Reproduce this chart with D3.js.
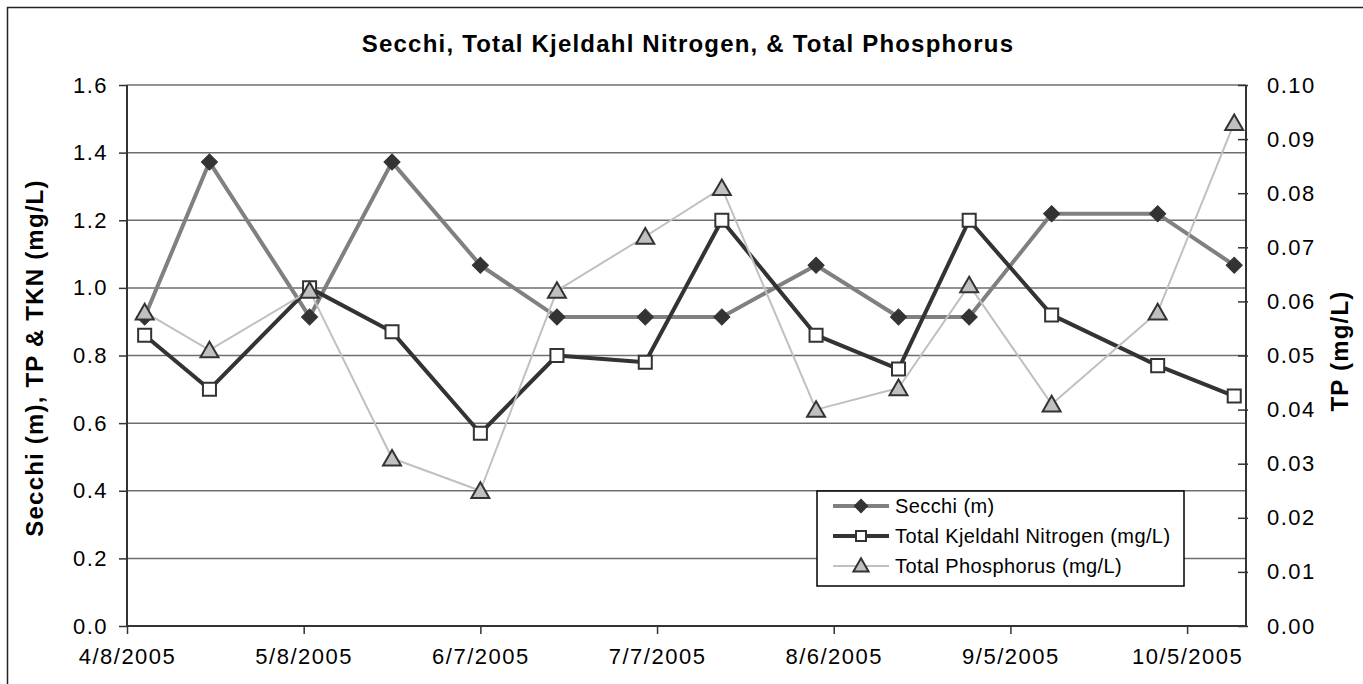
<!DOCTYPE html>
<html>
<head>
	<title>secchi-tkn-tp</title>
	<script src="https://d3js.org/d3.v7.min.js"></script>
	<style>
		body { margin: 0; background: #fff; }
		text { font-family: "Liberation Sans", Arial, sans-serif; fill: #000; }
	</style>
</head>
<body>
	<svg width="1363" height="684"></svg>
	<script type="text/javascript">
		var dates = ['4/11/2005', '4/22/2005', '5/9/2005', '5/23/2005', '6/7/2005', '6/20/2005', '7/5/2005',
			'7/18/2005', '8/3/2005', '8/17/2005', '8/29/2005', '9/12/2005', '9/30/2005', '10/13/2005'];
		var secchi = [0.914, 1.372, 0.914, 1.372, 1.067, 0.914, 0.914, 0.914, 1.067, 0.914, 0.914, 1.219, 1.219, 1.067];
		var tkn = [0.86, 0.70, 1.00, 0.87, 0.57, 0.80, 0.78, 1.20, 0.86, 0.76, 1.20, 0.92, 0.77, 0.68];
		var tp = [0.058, 0.051, 0.062, 0.031, 0.025, 0.062, 0.072, 0.081, 0.040, 0.044, 0.063, 0.041, 0.058, 0.093];

		var xTickLabels = ['4/8/2005', '5/8/2005', '6/7/2005', '7/7/2005', '8/6/2005', '9/5/2005', '10/5/2005'];
		var xEnd = '10/15/2005';
		var leftTicks = [0, 0.2, 0.4, 0.6, 0.8, 1.0, 1.2, 1.4, 1.6];
		var rightTicks = [0, 0.01, 0.02, 0.03, 0.04, 0.05, 0.06, 0.07, 0.08, 0.09, 0.10];
		var seriesNames = ['Secchi (m)', 'Total Kjeldahl Nitrogen (mg/L)', 'Total Phosphorus (mg/L)'];

		var parse = d3.utcParse('%m/%d/%Y');
		var fmt = d3.utcFormat('%-m/%-d/%Y');

		var plotL = 127, plotR = 1246, plotT = 85, plotB = 626;
		var svg = d3.select('svg');

		var x = d3.scaleUtc()
			.domain([parse(xTickLabels[0]), parse(xEnd)])
			.range([plotL, plotR]);
		var y = d3.scaleLinear().domain([0, 1.6]).range([plotB, plotT]);
		var y2 = d3.scaleLinear().domain([0, 0.10]).range([plotB, plotT]);

		// outer frame
		svg.append('rect')
			.attr('x', 7.5).attr('y', 7.5)
			.attr('width', 1360).attr('height', 700)
			.attr('fill', 'none').attr('stroke', '#222').attr('stroke-width', 1.5);

		// gridlines
		svg.append('g').selectAll('line')
			.data(leftTicks.slice(1))
			.enter().append('line')
			.attr('x1', plotL).attr('x2', plotR)
			.attr('y1', d => y(d)).attr('y2', d => y(d))
			.attr('stroke', '#6e6e6e').attr('stroke-width', 1.5);

		// axes
		var axisLeft = svg.append('g')
			.attr('transform', 'translate(' + plotL + ',0)')
			.call(d3.axisLeft(y).tickValues(leftTicks).tickFormat(d3.format('.1f')).tickSize(8).tickPadding(11));
		var axisRight = svg.append('g')
			.attr('transform', 'translate(' + plotR + ',0)')
			.call(d3.axisRight(y2).tickValues(rightTicks).tickFormat(d3.format('.2f')).tickSize(2).tickPadding(19));
		axisRight.selectAll('.tick line').attr('x1', -8);
		var axisBottom = svg.append('g')
			.attr('transform', 'translate(0,' + plotB + ')')
			.call(d3.axisBottom(x).tickValues(xTickLabels.map(parse)).tickFormat(fmt).tickSize(8).tickPadding(14));

		[axisLeft, axisRight, axisBottom].forEach(function(a) {
			a.select('.domain').attr('stroke', '#333').attr('stroke-width', 2);
			a.selectAll('.tick line').attr('stroke', '#333').attr('stroke-width', 1.5);
			a.selectAll('.tick text')
				.style('font-size', '22px').style('letter-spacing', '1.5px').attr('fill', '#000');
		});
		axisLeft.select('.domain').attr('d', 'M0,' + plotT + 'V' + plotB);
		axisRight.select('.domain').attr('d', 'M0,' + plotT + 'V' + plotB);
		axisBottom.select('.domain').attr('d', 'M' + plotL + ',0H' + plotR);

		// titles
		svg.append('text')
			.attr('x', 688).attr('y', 52)
			.attr('text-anchor', 'middle')
			.style('font-size', '24px').style('font-weight', 'bold').style('letter-spacing', '1.2px')
			.text('Secchi, Total Kjeldahl Nitrogen, & Total Phosphorus');
		svg.append('text')
			.attr('transform', 'translate(43,358) rotate(-90)')
			.attr('text-anchor', 'middle')
			.style('font-size', '24px').style('font-weight', 'bold').style('letter-spacing', '1.2px')
			.text('Secchi (m), TP & TKN (mg/L)');
		svg.append('text')
			.attr('transform', 'translate(1348,351) rotate(-90)')
			.attr('text-anchor', 'middle')
			.style('font-size', '24px').style('font-weight', 'bold').style('letter-spacing', '1.2px')
			.text('TP (mg/L)');

		// series
		var series = [
			{ values: secchi, scale: y, line: '#808080', width: 4, shape: 'diamond', size: 130, fill: '#333', stroke: '#333', sw: 1 },
			{ values: tkn, scale: y, line: '#333', width: 4, shape: 'square', size: 170, fill: '#fff', stroke: '#333', sw: 2 },
			{ values: tp, scale: y2, line: '#c0c0c0', width: 2, shape: 'triangle', size: 140, fill: '#c0c0c0', stroke: '#333', sw: 2 }
		];
		var symbolType = { diamond: d3.symbolSquare, square: d3.symbolSquare, triangle: d3.symbolTriangle };
		function markerTransform(s, px, py) {
			if (s.shape === 'diamond') return 'translate(' + px + ',' + py + ') rotate(45)';
			if (s.shape === 'triangle') return 'translate(' + px + ',' + (py + 2) + ')';
			return 'translate(' + px + ',' + py + ')';
		}

		series.forEach(function(s) {
			var pts = dates.map((d, i) => [x(parse(d)), s.scale(s.values[i])]);
			svg.append('path')
				.attr('d', d3.line()(pts))
				.attr('fill', 'none').attr('stroke', s.line).attr('stroke-width', s.width)
				.attr('stroke-linejoin', 'round');
			svg.append('g').selectAll('path')
				.data(pts)
				.enter().append('path')
				.attr('transform', d => markerTransform(s, d[0], d[1]))
				.attr('d', d3.symbol().type(symbolType[s.shape]).size(s.size))
				.attr('fill', s.fill).attr('stroke', s.stroke).attr('stroke-width', s.sw);
		});

		// legend
		var lg = svg.append('g');
		lg.append('rect')
			.attr('x', 817).attr('y', 491).attr('width', 367).attr('height', 95)
			.attr('fill', '#fff').attr('stroke', '#000').attr('stroke-width', 1.5);
		var rows = lg.selectAll('.row')
			.data(series)
			.enter().append('g')
			.attr('transform', (d, i) => 'translate(0,' + (506 + i * 30) + ')');
		rows.append('line')
			.attr('x1', 833).attr('x2', 889)
			.attr('stroke', d => d.line).attr('stroke-width', d => d.width);
		rows.append('path')
			.attr('transform', d => markerTransform(d, 861, d.shape === 'triangle' ? -1 : 0))
			.attr('d', d => d3.symbol().type(symbolType[d.shape]).size(d.shape === 'diamond' ? 90 : 100)())
			.attr('fill', d => d.fill).attr('stroke', d => d.stroke).attr('stroke-width', d => d.sw);
		rows.append('text')
			.attr('x', 895).attr('dy', '0.35em')
			.style('font-size', '20px').style('letter-spacing', '0.4px')
			.text((d, i) => seriesNames[i]);
	</script>
</body>
</html>
